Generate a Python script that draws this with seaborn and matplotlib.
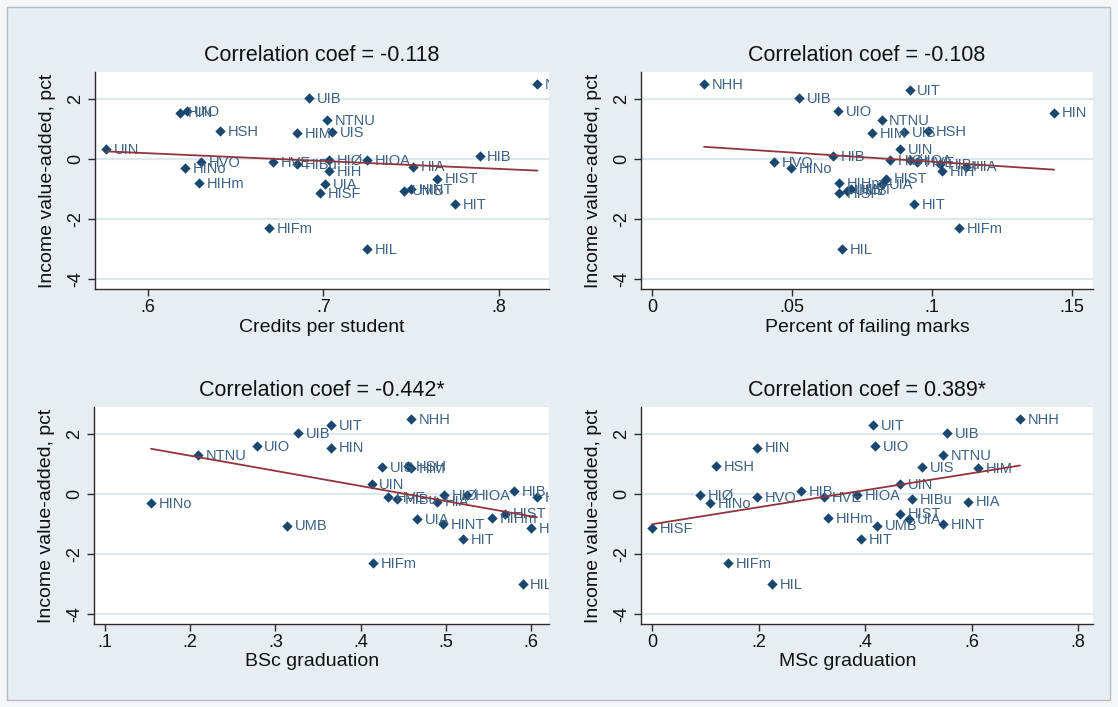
import numpy as np
import pandas as pd
import seaborn as sns
import matplotlib.pyplot as plt
from matplotlib.patches import Rectangle
from matplotlib.ticker import FuncFormatter

# institutions and income value-added (pct)
institutions = ["NHH", "UIT", "UIB", "UIO", "HIN", "NTNU", "HSH", "UIS", "HIM", "UIN",
                "HIB", "HIØ", "HIOA", "HVO", "HVE", "HIBu", "HIA", "HINo", "HIH", "HIST",
                "HIHm", "UIA", "HINT", "UMB", "HISF", "HIT", "HIFm", "HIL"]
value_added = [2.5, 2.3, 2.03, 1.6, 1.55, 1.3, 0.92, 0.9, 0.87, 0.32,
               0.1, -0.03, -0.03, -0.1, -0.1, -0.17, -0.25, -0.3, -0.4, -0.65,
               -0.8, -0.83, -1.0, -1.05, -1.13, -1.5, -2.3, -3.0]

nan = np.nan
credits = [0.822, nan, 0.692, 0.622, 0.618, 0.702, 0.641, 0.705, 0.685, 0.576,
           0.789, 0.703, 0.725, 0.630, 0.671, 0.685, 0.751, 0.621, 0.703, 0.765,
           0.629, 0.701, 0.750, 0.746, 0.698, 0.775, 0.669, 0.725]
failing = [0.0186, 0.092, 0.0525, 0.0664, 0.1436, 0.082, 0.0986, 0.090, 0.0786, 0.0886,
           0.0646, 0.085, 0.092, 0.0436, 0.0946, 0.103, 0.112, 0.0496, 0.1036, 0.0836,
           0.0668, 0.082, 0.0711, 0.0696, 0.0668, 0.0936, 0.1096, 0.0679]
bsc_grad = [0.459, 0.365, 0.327, 0.278, 0.365, 0.209, 0.456, 0.425, 0.459, 0.413,
            0.580, 0.498, 0.525, 0.607, 0.432, 0.443, 0.490, 0.154, nan, 0.570,
            0.554, 0.466, 0.497, 0.314, 0.600, 0.520, 0.415, 0.590]
msc_grad = [0.691, 0.415, 0.554, 0.419, 0.197, 0.546, 0.120, 0.507, 0.612, 0.466,
            0.280, 0.090, 0.385, 0.197, 0.323, 0.488, 0.593, 0.109, nan, 0.466,
            0.331, 0.483, 0.546, 0.423, 0.000, 0.392, 0.143, 0.225]

titles = ["Correlation coef = -0.118", "Correlation coef = -0.108",
          "Correlation coef = -0.442*", "Correlation coef = 0.389*"]
xlabels = ["Credits per student", "Percent of failing marks", "BSc graduation", "MSc graduation"]
xticks = [[0.6, 0.7, 0.8], [0, 0.05, 0.1, 0.15], [0.1, 0.2, 0.3, 0.4, 0.5, 0.6], [0, 0.2, 0.4, 0.6, 0.8]]
yticks = [-4, -2, 0, 2]

df = pd.DataFrame({"inst": institutions, "va": value_added, "credits": credits,
                   "failing": failing, "bsc": bsc_grad, "msc": msc_grad})

sns.set_theme(style="white")
plt.rcParams["font.family"] = ["Liberation Sans", "DejaVu Sans"]

bg = "#e6eef1"
navy = "#1a476f"
maroon = "#90353b"
lab_col = "#3d6284"

W, H = 1118, 707
fig = plt.figure(figsize=(W / 100, H / 100), dpi=100, facecolor="#f4f6f8")
fig.patches.append(Rectangle((7 / W, 7 / H), 1103 / W, 693 / H, transform=fig.transFigure,
                             facecolor=bg, edgecolor="#b4bec6", lw=1, zorder=-5))


def fmt(v, pos):
    s = f"{v:g}"
    if s.startswith("0."):
        s = s[1:]
    elif s.startswith("-0."):
        s = "-" + s[2:]
    return s


# axes rectangles in pixels: left, top, right, bottom
rects = [(95, 72, 549, 289), (641, 72, 1093, 289), (94, 407, 549, 624), (641, 407, 1093, 624)]
xlims = [(0.5697, 0.8286), (-0.0039, 0.1575), (0.0871, 0.6211), (-0.0207, 0.828)]
cols = ["credits", "failing", "bsc", "msc"]
xlab_pos = [0.5, 0.5, 0.479, 0.458]

for i in range(4):
    l, t, r, b = rects[i]
    ax = fig.add_axes([l / W, 1 - b / H, (r - l) / W, (b - t) / H])
    ax.set_facecolor("white")
    d = df.dropna(subset=[cols[i]])
    sns.scatterplot(data=d, x=cols[i], y="va", ax=ax, marker="D", s=28, color=navy,
                    edgecolor=navy, linewidth=0, zorder=3)
    sns.regplot(data=d, x=cols[i], y="va", ax=ax, scatter=False, ci=None, truncate=True,
                color=maroon, line_kws={"lw": 1.3, "zorder": 4})
    for _, row in d.iterrows():
        ax.annotate(row["inst"], (row[cols[i]], row["va"]), xytext=(5.5, -0.5),
                    textcoords="offset points", ha="left", va="center", fontsize=10.5,
                    color=lab_col, clip_on=True, zorder=3)
    ax.set_xlim(*xlims[i])
    ax.set_ylim(-4.33, 2.9)
    ax.set_xticks(xticks[i])
    ax.set_yticks(yticks)
    ax.xaxis.set_major_formatter(FuncFormatter(fmt))
    ax.yaxis.set_major_formatter(FuncFormatter(fmt))
    ax.grid(axis="y", color="#dde7ec", lw=1.6)
    ax.grid(axis="x", visible=False)
    ax.set_axisbelow(True)
    for s in ["top", "right"]:
        ax.spines[s].set_visible(False)
    for s in ["left", "bottom"]:
        ax.spines[s].set_color("#2b2b2b")
        ax.spines[s].set_linewidth(1)
    ax.tick_params(axis="both", direction="out", length=5, width=1, color="#2b2b2b",
                   labelsize=13, labelcolor="#111111", left=True, bottom=True)
    ax.tick_params(axis="x", pad=2)
    ax.tick_params(axis="y", pad=3)
    for lbl in ax.get_yticklabels():
        lbl.set_rotation(90)
        lbl.set_va("center")
    ax.set_title(titles[i], fontsize=15.5, pad=8, color="#111111")
    ax.set_xlabel(xlabels[i], fontsize=14, color="#111111", va="center")
    ax.xaxis.set_label_coords(xlab_pos[i], -38 / (b - t))
    ax.set_ylabel("Income value-added, pct", fontsize=14, color="#111111", va="center")
    ax.yaxis.set_label_coords(-47 / (r - l), 0.5)

fig.savefig("out.png", dpi=100, facecolor=fig.get_facecolor())
